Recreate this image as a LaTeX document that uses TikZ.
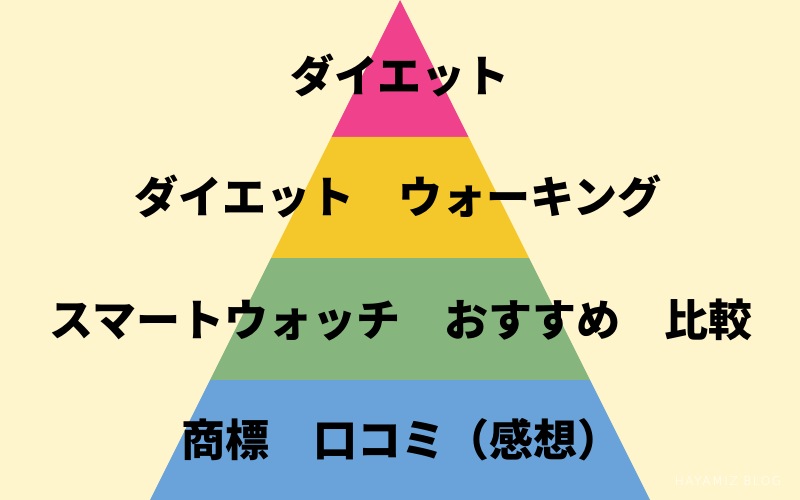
\documentclass[tikz,border=0pt]{standalone}
\usepackage{fontspec}
\newfontfamily\jpfont{Noto Sans CJK JP}
\newfontfamily\blogfont{DejaVu Sans ExtraLight}
\definecolor{bgcream}{HTML}{FFF5CC}
\definecolor{pinkband}{HTML}{F0428C}
\definecolor{yellowband}{HTML}{F4C72A}
\definecolor{greenband}{HTML}{86B57E}
\definecolor{blueband}{HTML}{6AA3DA}
\tikzset{
  label/.style={font=\jpfont\bfseries\fontsize{44}{44}\selectfont,text=black,inner sep=0pt},
}
\begin{document}
\begin{tikzpicture}[x=1pt,y=-1pt,line join=round]
	\fill[bgcream] (0,0) rectangle (800,500);
	\path (400,0)coordinate(A) (150,500)coordinate(BL) (650,500)coordinate(BR);
	% bands of the pyramid
	\fill[pinkband] (A)--(331.5,137)--(468.5,137)--cycle;
	\fill[yellowband] (331.5,137)--(271,258)--(529,258)--(468.5,137)--cycle;
	\fill[greenband] (271,258)--(210,380)--(590,380)--(529,258)--cycle;
	\fill[blueband] (210,380)--(BL)--(BR)--(590,380)--cycle;
	% texts
	\node[label] (top) at (400,75) {ダイエット};
	\node[label] (second) at (398,196) {ダイエット　ウォーキング};
	\node[label] (third) at (401,320) {スマートウォッチ　おすすめ　比較};
	\node[label] (bottom) at (401,440) {商標　口コミ（感想）};
	\node[font=\blogfont\fontsize{12}{12}\selectfont\addfontfeature{LetterSpace=14},text=white,inner sep=0pt] (blog) at (728,481) {HAYAMIZ BLOG};
\end{tikzpicture}
\end{document}
